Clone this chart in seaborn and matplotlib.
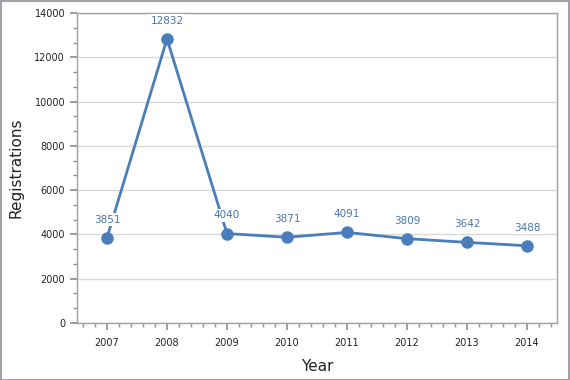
import matplotlib
matplotlib.use("Agg")
import matplotlib.pyplot as plt
from matplotlib.ticker import MultipleLocator
import seaborn as sns
import pandas as pd

years = ["2007", "2008", "2009", "2010", "2011", "2012", "2013", "2014"]
registrations = [3851, 12832, 4040, 3871, 4091, 3809, 3642, 3488]

sns.set_theme(style="white")
plt.rcParams['font.family'] = ['DejaVu Sans']

df = pd.DataFrame({"Year": years, "Registrations": registrations})
df["pos"] = range(len(years))

fig = plt.figure(figsize=(5.7, 3.8), dpi=100)
ax = fig.add_axes([77/570, 1 - 323/380, (557-77)/570, (323-13)/380])

blue = "#4a7ebb"
sns.lineplot(data=df, x="pos", y="Registrations", ax=ax, color=blue, linewidth=2,
             marker="o", markersize=9, markeredgewidth=0, zorder=3)

for i, v in enumerate(registrations):
    ax.annotate(str(v), (i, v), xytext=(0, 13), textcoords="offset points",
                ha="center", va="center", fontsize=7.5, color="#4a74ab",
                bbox=dict(boxstyle="square,pad=0.15", fc="white", ec="none"), zorder=4)

ax.set_xlim(-0.5, 7.5)
ax.set_ylim(0, 14000)
ax.set_xticks(range(len(years)))
ax.set_xticklabels(years)
ax.xaxis.set_minor_locator(MultipleLocator(0.2))
ax.yaxis.set_major_locator(MultipleLocator(2000))
ax.yaxis.set_minor_locator(MultipleLocator(2000/3))
ax.tick_params(axis="both", which="major", labelsize=7, length=5, color="#909090",
               labelcolor="#222222", direction="out", bottom=True, left=True)
ax.tick_params(axis="both", which="minor", length=3, color="#909090", direction="out",
               bottom=True, left=True)
ax.tick_params(axis="x", which="major", pad=6)
ax.grid(axis="y", which="major", color="#d9d9d9", linewidth=1)
ax.set_axisbelow(True)
for s in ax.spines.values():
    s.set_color("#a0a0a0")
    s.set_linewidth(1)

ax.set_xlabel("Year", fontsize=11, color="#222222", labelpad=8)
ax.set_ylabel("Registrations", fontsize=11, color="#222222", labelpad=8)

fig.patches.append(plt.Rectangle((0.001, 0.001), 0.997, 0.997, transform=fig.transFigure,
                                 fill=False, edgecolor="#a0a0a8", linewidth=1.5))

fig.savefig("out.png", dpi=100)
